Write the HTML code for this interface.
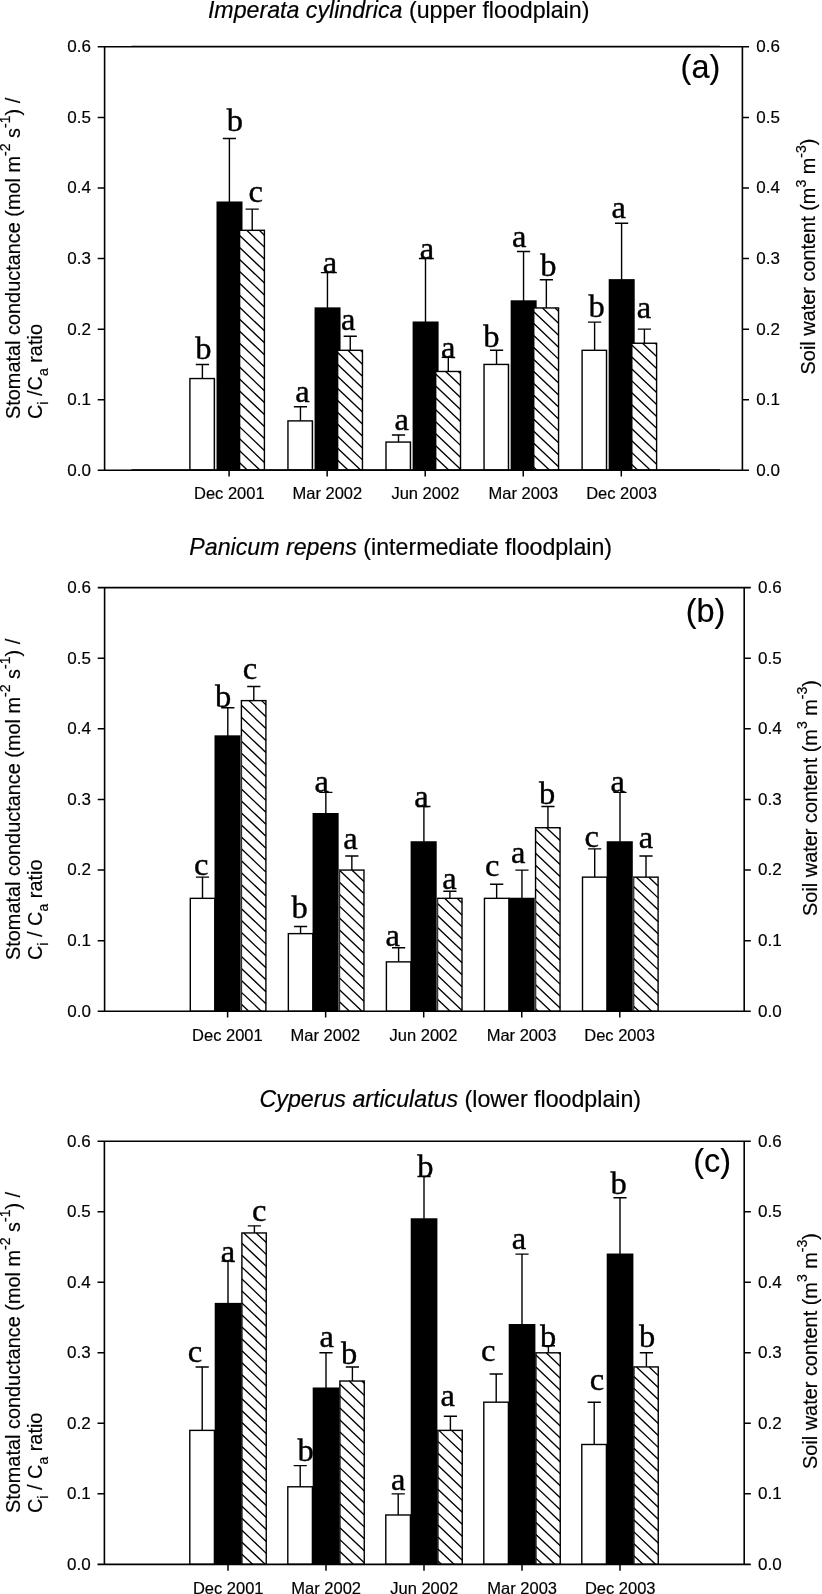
<!DOCTYPE html>
<html lang="en"><head><meta charset="utf-8"><title>Stomatal conductance, Ci/Ca ratio and soil water content</title>
<style>html,body{margin:0;padding:0;background:#fff}body{width:822px;height:1594px;overflow:hidden}svg{display:block;filter:grayscale(1) blur(.3px)}text{fill:#000;stroke:#000;stroke-width:.18px}.t{stroke-width:.4px}.s{font-family:'Liberation Sans', Arial, Helvetica, sans-serif}.t{font-family:'Liberation Serif', 'Times New Roman', Times, serif}</style></head><body>
<svg width="822" height="1594" viewBox="0 0 822 1594">
<rect width="822" height="1594" fill="#fff"/>
<g id="panel-a">
<path d="M202.4 378.54V364.43M195.8 364.43H209" stroke="#000" stroke-width="1.4" fill="none"/>
<path d="M229.4 202.08V138.56M222.8 138.56H236" stroke="#000" stroke-width="1.4" fill="none"/>
<path d="M252.2 230.32V209.14M245.6 209.14H258.8" stroke="#000" stroke-width="1.4" fill="none"/>
<rect x="189.9" y="378.54" width="24.4" height="91.76" fill="#fff" stroke="#000" stroke-width="1.4"/>
<rect x="216.5" y="201.48" width="26" height="268.82" fill="#000"/>
<rect x="239.6" y="230.32" width="24.8" height="239.98" fill="#fff"/>
<path d="M259.3 230.32L264.4 235.16M246.71 230.32L264.4 247.12M239.6 235.52L264.4 259.08M239.6 247.48L264.4 271.04M239.6 259.44L264.4 283M239.6 271.4L264.4 294.96M239.6 283.36L264.4 306.92M239.6 295.32L264.4 318.88M239.6 307.28L264.4 330.84M239.6 319.24L264.4 342.8M239.6 331.2L264.4 354.76M239.6 343.16L264.4 366.72M239.6 355.12L264.4 378.68M239.6 367.08L264.4 390.64M239.6 379.04L264.4 402.6M239.6 391L264.4 414.56M239.6 402.96L264.4 426.52M239.6 414.92L264.4 438.48M239.6 426.88L264.4 450.44M239.6 438.84L264.4 462.4M239.6 450.8L260.13 470.3M239.6 462.76L247.54 470.3" stroke="#000" stroke-width="1.35" fill="none"/>
<rect x="239.6" y="230.32" width="24.8" height="239.98" fill="none" stroke="#000" stroke-width="1.4"/>
<line x1="216" y1="378.54" x2="216" y2="470.3" stroke="#999" stroke-width="0.6"/>
<path d="M300.45 420.89V406.78M293.85 406.78H307.05" stroke="#000" stroke-width="1.4" fill="none"/>
<path d="M327.45 307.96V272.67M320.85 272.67H334.05" stroke="#000" stroke-width="1.4" fill="none"/>
<path d="M350.25 350.31V336.19M343.65 336.19H356.85" stroke="#000" stroke-width="1.4" fill="none"/>
<rect x="287.95" y="420.89" width="24.4" height="49.41" fill="#fff" stroke="#000" stroke-width="1.4"/>
<rect x="314.55" y="307.36" width="26" height="162.94" fill="#000"/>
<rect x="337.65" y="350.31" width="24.8" height="119.99" fill="#fff"/>
<path d="M360.43 350.31L362.45 352.23M347.84 350.31L362.45 364.19M337.65 352.59L362.45 376.15M337.65 364.55L362.45 388.11M337.65 376.51L362.45 400.07M337.65 388.47L362.45 412.03M337.65 400.43L362.45 423.99M337.65 412.39L362.45 435.95M337.65 424.35L362.45 447.91M337.65 436.31L362.45 459.87M337.65 448.27L360.84 470.3M337.65 460.23L348.25 470.3" stroke="#000" stroke-width="1.35" fill="none"/>
<rect x="337.65" y="350.31" width="24.8" height="119.99" fill="none" stroke="#000" stroke-width="1.4"/>
<line x1="314.05" y1="420.89" x2="314.05" y2="470.3" stroke="#999" stroke-width="0.6"/>
<path d="M398.5 442.07V435.01M391.9 435.01H405.1" stroke="#000" stroke-width="1.4" fill="none"/>
<path d="M425.5 322.08V258.55M418.9 258.55H432.1" stroke="#000" stroke-width="1.4" fill="none"/>
<path d="M448.3 371.48V357.37M441.7 357.37H454.9" stroke="#000" stroke-width="1.4" fill="none"/>
<rect x="386" y="442.07" width="24.4" height="28.23" fill="#fff" stroke="#000" stroke-width="1.4"/>
<rect x="412.6" y="321.48" width="26" height="148.82" fill="#000"/>
<rect x="435.7" y="371.48" width="24.8" height="98.82" fill="#fff"/>
<path d="M458.26 371.48L460.5 373.61M445.67 371.48L460.5 385.57M435.7 373.97L460.5 397.53M435.7 385.93L460.5 409.49M435.7 397.89L460.5 421.45M435.7 409.85L460.5 433.41M435.7 421.81L460.5 445.37M435.7 433.77L460.5 457.33M435.7 445.73L460.5 469.29M435.7 457.69L448.97 470.3M435.7 469.65L436.38 470.3" stroke="#000" stroke-width="1.35" fill="none"/>
<rect x="435.7" y="371.48" width="24.8" height="98.82" fill="none" stroke="#000" stroke-width="1.4"/>
<line x1="412.1" y1="442.07" x2="412.1" y2="470.3" stroke="#999" stroke-width="0.6"/>
<path d="M496.55 364.43V350.31M489.95 350.31H503.15" stroke="#000" stroke-width="1.4" fill="none"/>
<path d="M523.55 300.9V251.49M516.95 251.49H530.15" stroke="#000" stroke-width="1.4" fill="none"/>
<path d="M546.35 307.96V279.73M539.75 279.73H552.95" stroke="#000" stroke-width="1.4" fill="none"/>
<rect x="484.05" y="364.43" width="24.4" height="105.88" fill="#fff" stroke="#000" stroke-width="1.4"/>
<rect x="510.65" y="300.3" width="26" height="170" fill="#000"/>
<rect x="533.75" y="307.96" width="24.8" height="162.34" fill="#fff"/>
<path d="M555.05 307.96L558.55 311.28M542.46 307.96L558.55 323.24M533.75 311.64L558.55 335.2M533.75 323.6L558.55 347.16M533.75 335.56L558.55 359.12M533.75 347.52L558.55 371.08M533.75 359.48L558.55 383.04M533.75 371.44L558.55 395M533.75 383.4L558.55 406.96M533.75 395.36L558.55 418.92M533.75 407.32L558.55 430.88M533.75 419.28L558.55 442.84M533.75 431.24L558.55 454.8M533.75 443.2L558.55 466.76M533.75 455.16L549.68 470.3M533.75 467.12L537.09 470.3" stroke="#000" stroke-width="1.35" fill="none"/>
<rect x="533.75" y="307.96" width="24.8" height="162.34" fill="none" stroke="#000" stroke-width="1.4"/>
<line x1="510.15" y1="364.43" x2="510.15" y2="470.3" stroke="#999" stroke-width="0.6"/>
<path d="M594.6 350.31V322.08M588 322.08H601.2" stroke="#000" stroke-width="1.4" fill="none"/>
<path d="M621.6 279.73V223.26M615 223.26H628.2" stroke="#000" stroke-width="1.4" fill="none"/>
<path d="M644.4 343.25V329.13M637.8 329.13H651" stroke="#000" stroke-width="1.4" fill="none"/>
<rect x="582.1" y="350.31" width="24.4" height="119.99" fill="#fff" stroke="#000" stroke-width="1.4"/>
<rect x="608.7" y="279.12" width="26" height="191.17" fill="#000"/>
<rect x="631.8" y="343.25" width="24.8" height="127.05" fill="#fff"/>
<path d="M655.15 343.25L656.6 344.63M642.56 343.25L656.6 356.59M631.8 344.99L656.6 368.55M631.8 356.95L656.6 380.51M631.8 368.91L656.6 392.47M631.8 380.87L656.6 404.43M631.8 392.83L656.6 416.39M631.8 404.79L656.6 428.35M631.8 416.75L656.6 440.31M631.8 428.71L656.6 452.27M631.8 440.67L656.6 464.23M631.8 452.63L650.4 470.3M631.8 464.59L637.81 470.3" stroke="#000" stroke-width="1.35" fill="none"/>
<rect x="631.8" y="343.25" width="24.8" height="127.05" fill="none" stroke="#000" stroke-width="1.4"/>
<line x1="608.2" y1="350.31" x2="608.2" y2="470.3" stroke="#999" stroke-width="0.6"/>
<path d="M97.7 46.8H749M97.7 470.3H749M104.6 46.8V470.3M742.4 46.8V470.3" stroke="#000" stroke-width="1.6" fill="none"/>
<path d="M131.4 46.35H720M131.4 469.85H720" stroke="#000" stroke-width="1.3" fill="none"/>
<path d="M97.7 399.72H104.6M742.4 399.72H749M97.7 329.13H104.6M742.4 329.13H749M97.7 258.55H104.6M742.4 258.55H749M97.7 187.97H104.6M742.4 187.97H749M97.7 117.38H104.6M742.4 117.38H749" stroke="#000" stroke-width="1.5" fill="none"/>
<text class="s" x="90.9" y="475.7" font-size="17" text-anchor="end">0.0</text>
<text class="s" x="756.3" y="475.7" font-size="17">0.0</text>
<text class="s" x="90.9" y="405.12" font-size="17" text-anchor="end">0.1</text>
<text class="s" x="756.3" y="405.12" font-size="17">0.1</text>
<text class="s" x="90.9" y="334.53" font-size="17" text-anchor="end">0.2</text>
<text class="s" x="756.3" y="334.53" font-size="17">0.2</text>
<text class="s" x="90.9" y="263.95" font-size="17" text-anchor="end">0.3</text>
<text class="s" x="756.3" y="263.95" font-size="17">0.3</text>
<text class="s" x="90.9" y="193.37" font-size="17" text-anchor="end">0.4</text>
<text class="s" x="756.3" y="193.37" font-size="17">0.4</text>
<text class="s" x="90.9" y="122.78" font-size="17" text-anchor="end">0.5</text>
<text class="s" x="756.3" y="122.78" font-size="17">0.5</text>
<text class="s" x="90.9" y="52.2" font-size="17" text-anchor="end">0.6</text>
<text class="s" x="756.3" y="52.2" font-size="17">0.6</text>
<path d="M229.1 470.3V476.6M327.15 470.3V476.6M425.2 470.3V476.6M523.25 470.3V476.6M621.3 470.3V476.6" stroke="#000" stroke-width="1.5" fill="none"/>
<text class="s" x="229.3" y="499.1" font-size="16.5" text-anchor="middle">Dec 2001</text>
<text class="s" x="327.35" y="499.1" font-size="16.5" text-anchor="middle">Mar 2002</text>
<text class="s" x="425.4" y="499.1" font-size="16.5" text-anchor="middle">Jun 2002</text>
<text class="s" x="523.45" y="499.1" font-size="16.5" text-anchor="middle">Mar 2003</text>
<text class="s" x="621.5" y="499.1" font-size="16.5" text-anchor="middle">Dec 2003</text>
<text class="t" x="203.4" y="359.2" font-size="32.5" text-anchor="middle">b</text>
<text class="t" x="234.9" y="131.4" font-size="32.5" text-anchor="middle">b</text>
<text class="t" x="255.7" y="202.3" font-size="32.5" text-anchor="middle">c</text>
<text class="t" x="302.5" y="401.6" font-size="32.5" text-anchor="middle">a</text>
<text class="t" x="329.9" y="272.6" font-size="32.5" text-anchor="middle">a</text>
<text class="t" x="348.2" y="330.4" font-size="32.5" text-anchor="middle">a</text>
<text class="t" x="401.6" y="429.9" font-size="32.5" text-anchor="middle">a</text>
<text class="t" x="426.9" y="258.6" font-size="32.5" text-anchor="middle">a</text>
<text class="t" x="448.1" y="358.4" font-size="32.5" text-anchor="middle">a</text>
<text class="t" x="491.4" y="346.8" font-size="32.5" text-anchor="middle">b</text>
<text class="t" x="519.2" y="246.8" font-size="32.5" text-anchor="middle">a</text>
<text class="t" x="548.4" y="275.6" font-size="32.5" text-anchor="middle">b</text>
<text class="t" x="596.7" y="316.8" font-size="32.5" text-anchor="middle">b</text>
<text class="t" x="618.8" y="218.4" font-size="32.5" text-anchor="middle">a</text>
<text class="t" x="644" y="317.8" font-size="32.5" text-anchor="middle">a</text>
<text class="s" x="207.9" y="17.5" font-size="23.2"><tspan font-style="italic">Imperata cylindrica</tspan> (upper floodplain)</text>
<text class="s" x="680.6" y="78.3" font-size="32.4">(a)</text>
<text class="s" transform="translate(19.6 419) rotate(-90)" font-size="19.9">Stomatal conductance (mol m<tspan font-size="14" dy="-9.8">-2</tspan><tspan dy="9.8"> s</tspan><tspan font-size="14" dy="-9.8">-1</tspan><tspan dy="9.8">) /</tspan></text>
<text class="s" transform="translate(42.2 419) rotate(-90)" font-size="19.9">C<tspan font-size="14" dy="5.6">i</tspan><tspan dy="-5.6"> /C</tspan><tspan font-size="14" dy="5.6">a</tspan><tspan dy="-5.6"> ratio</tspan></text>
<text class="s" transform="translate(815.3 374.4) rotate(-90)" font-size="19.9">Soil water content (m<tspan font-size="14" dy="-9.8">3</tspan><tspan dy="9.8"> m</tspan><tspan font-size="14" dy="-9.8">-3</tspan><tspan dy="9.8">)</tspan></text>
</g>
<g id="panel-b">
<path d="M202.5 898.33V877.14M195.9 877.14H209.1" stroke="#000" stroke-width="1.4" fill="none"/>
<path d="M227.8 735.93V707.68M221.2 707.68H234.4" stroke="#000" stroke-width="1.4" fill="none"/>
<path d="M253.8 700.62V686.5M247.2 686.5H260.4" stroke="#000" stroke-width="1.4" fill="none"/>
<rect x="190.3" y="898.33" width="24.5" height="112.97" fill="#fff" stroke="#000" stroke-width="1.4"/>
<rect x="214.5" y="735.33" width="26.1" height="275.97" fill="#000"/>
<rect x="241.4" y="700.62" width="24.5" height="310.68" fill="#fff"/>
<path d="M261.62 700.62L265.9 704.68M249.04 700.62L265.9 716.64M241.4 705.33L265.9 728.61M241.4 717.29L265.9 740.57M241.4 729.25L265.9 752.52M241.4 741.21L265.9 764.49M241.4 753.17L265.9 776.44M241.4 765.13L265.9 788.4M241.4 777.09L265.9 800.37M241.4 789.05L265.9 812.33M241.4 801.01L265.9 824.28M241.4 812.97L265.9 836.24M241.4 824.93L265.9 848.2M241.4 836.89L265.9 860.16M241.4 848.85L265.9 872.12M241.4 860.81L265.9 884.09M241.4 872.77L265.9 896.04M241.4 884.73L265.9 908M241.4 896.69L265.9 919.96M241.4 908.65L265.9 931.92M241.4 920.61L265.9 943.88M241.4 932.57L265.9 955.85M241.4 944.53L265.9 967.81M241.4 956.49L265.9 979.76M241.4 968.45L265.9 991.72M241.4 980.41L265.9 1003.68M241.4 992.37L261.33 1011.3M241.4 1004.33L248.74 1011.3" stroke="#000" stroke-width="1.35" fill="none"/>
<rect x="241.4" y="700.62" width="24.5" height="310.68" fill="none" stroke="#000" stroke-width="1.4"/>
<line x1="241" y1="735.93" x2="241" y2="1011.3" stroke="#999" stroke-width="0.6"/>
<path d="M300.55 933.63V926.57M293.95 926.57H307.15" stroke="#000" stroke-width="1.4" fill="none"/>
<path d="M325.85 813.6V792.41M319.25 792.41H332.45" stroke="#000" stroke-width="1.4" fill="none"/>
<path d="M351.85 870.08V855.96M345.25 855.96H358.45" stroke="#000" stroke-width="1.4" fill="none"/>
<rect x="288.35" y="933.63" width="24.5" height="77.67" fill="#fff" stroke="#000" stroke-width="1.4"/>
<rect x="312.55" y="813" width="26.1" height="198.3" fill="#000"/>
<rect x="339.45" y="870.08" width="24.5" height="141.22" fill="#fff"/>
<path d="M351.88 870.08L363.95 881.55M339.45 870.24L363.95 893.51M339.45 882.2L363.95 905.47M339.45 894.16L363.95 917.43M339.45 906.12L363.95 929.39M339.45 918.08L363.95 941.35M339.45 930.04L363.95 953.31M339.45 942L363.95 965.27M339.45 953.96L363.95 977.23M339.45 965.92L363.95 989.19M339.45 977.88L363.95 1001.15M339.45 989.84L362.04 1011.3M339.45 1001.8L349.45 1011.3" stroke="#000" stroke-width="1.35" fill="none"/>
<rect x="339.45" y="870.08" width="24.5" height="141.22" fill="none" stroke="#000" stroke-width="1.4"/>
<line x1="339.05" y1="870.08" x2="339.05" y2="1011.3" stroke="#999" stroke-width="0.6"/>
<path d="M398.6 961.87V947.75M392 947.75H405.2" stroke="#000" stroke-width="1.4" fill="none"/>
<path d="M423.9 841.84V806.54M417.3 806.54H430.5" stroke="#000" stroke-width="1.4" fill="none"/>
<path d="M449.9 898.33V891.27M443.3 891.27H456.5" stroke="#000" stroke-width="1.4" fill="none"/>
<rect x="386.4" y="961.87" width="24.5" height="49.43" fill="#fff" stroke="#000" stroke-width="1.4"/>
<rect x="410.6" y="841.24" width="26.1" height="170.06" fill="#000"/>
<rect x="437.5" y="898.33" width="24.5" height="112.97" fill="#fff"/>
<path d="M457.14 898.33L462 902.94M444.55 898.33L462 914.9M437.5 903.59L462 926.86M437.5 915.55L462 938.82M437.5 927.51L462 950.78M437.5 939.47L462 962.74M437.5 951.42L462 974.7M437.5 963.38L462 986.66M437.5 975.35L462 998.62M437.5 987.3L462 1010.58M437.5 999.26L450.17 1011.3" stroke="#000" stroke-width="1.35" fill="none"/>
<rect x="437.5" y="898.33" width="24.5" height="112.97" fill="none" stroke="#000" stroke-width="1.4"/>
<line x1="437.1" y1="898.33" x2="437.1" y2="1011.3" stroke="#999" stroke-width="0.6"/>
<path d="M496.65 898.33V884.2M490.05 884.2H503.25" stroke="#000" stroke-width="1.4" fill="none"/>
<path d="M521.95 898.33V870.08M515.35 870.08H528.55" stroke="#000" stroke-width="1.4" fill="none"/>
<path d="M547.95 827.72V806.54M541.35 806.54H554.55" stroke="#000" stroke-width="1.4" fill="none"/>
<rect x="484.45" y="898.33" width="24.5" height="112.97" fill="#fff" stroke="#000" stroke-width="1.4"/>
<rect x="508.65" y="897.73" width="26.1" height="113.57" fill="#000"/>
<rect x="535.55" y="827.72" width="24.5" height="183.58" fill="#fff"/>
<path d="M559.07 827.72L560.05 828.65M546.48 827.72L560.05 840.61M535.55 829.29L560.05 852.57M535.55 841.25L560.05 864.53M535.55 853.21L560.05 876.49M535.55 865.17L560.05 888.45M535.55 877.13L560.05 900.41M535.55 889.09L560.05 912.37M535.55 901.05L560.05 924.33M535.55 913.01L560.05 936.29M535.55 924.97L560.05 948.25M535.55 936.93L560.05 960.21M535.55 948.89L560.05 972.17M535.55 960.85L560.05 984.13M535.55 972.81L560.05 996.09M535.55 984.77L560.05 1008.05M535.55 996.73L550.88 1011.3M535.55 1008.69L538.29 1011.3" stroke="#000" stroke-width="1.35" fill="none"/>
<rect x="535.55" y="827.72" width="24.5" height="183.58" fill="none" stroke="#000" stroke-width="1.4"/>
<line x1="535.15" y1="898.33" x2="535.15" y2="1011.3" stroke="#999" stroke-width="0.6"/>
<path d="M594.7 877.14V848.9M588.1 848.9H601.3" stroke="#000" stroke-width="1.4" fill="none"/>
<path d="M620 841.84V792.41M613.4 792.41H626.6" stroke="#000" stroke-width="1.4" fill="none"/>
<path d="M646 877.14V855.96M639.4 855.96H652.6" stroke="#000" stroke-width="1.4" fill="none"/>
<rect x="582.5" y="877.14" width="24.5" height="134.16" fill="#fff" stroke="#000" stroke-width="1.4"/>
<rect x="606.7" y="841.24" width="26.1" height="170.06" fill="#000"/>
<rect x="633.6" y="877.14" width="24.5" height="134.16" fill="#fff"/>
<path d="M648.87 877.14L658.1 885.91M636.28 877.14L658.1 897.88M633.6 886.56L658.1 909.84M633.6 898.52L658.1 921.79M633.6 910.48L658.1 933.75M633.6 922.44L658.1 945.71M633.6 934.4L658.1 957.67M633.6 946.36L658.1 969.63M633.6 958.32L658.1 981.6M633.6 970.28L658.1 993.55M633.6 982.24L658.1 1005.51M633.6 994.2L651.6 1011.3M633.6 1006.16L639.01 1011.3" stroke="#000" stroke-width="1.35" fill="none"/>
<rect x="633.6" y="877.14" width="24.5" height="134.16" fill="none" stroke="#000" stroke-width="1.4"/>
<line x1="633.2" y1="877.14" x2="633.2" y2="1011.3" stroke="#999" stroke-width="0.6"/>
<path d="M97.7 587.65H750.8M97.7 1011.3H750.8M104.6 587.65V1011.3M744.2 587.65V1011.3" stroke="#000" stroke-width="1.6" fill="none"/>
<path d="M97.7 940.69H104.6M744.2 940.69H750.8M97.7 870.08H104.6M744.2 870.08H750.8M97.7 799.47H104.6M744.2 799.47H750.8M97.7 728.87H104.6M744.2 728.87H750.8M97.7 658.26H104.6M744.2 658.26H750.8" stroke="#000" stroke-width="1.5" fill="none"/>
<text class="s" x="90.9" y="1016.7" font-size="17" text-anchor="end">0.0</text>
<text class="s" x="758.1" y="1016.7" font-size="17">0.0</text>
<text class="s" x="90.9" y="946.09" font-size="17" text-anchor="end">0.1</text>
<text class="s" x="758.1" y="946.09" font-size="17">0.1</text>
<text class="s" x="90.9" y="875.48" font-size="17" text-anchor="end">0.2</text>
<text class="s" x="758.1" y="875.48" font-size="17">0.2</text>
<text class="s" x="90.9" y="804.87" font-size="17" text-anchor="end">0.3</text>
<text class="s" x="758.1" y="804.87" font-size="17">0.3</text>
<text class="s" x="90.9" y="734.27" font-size="17" text-anchor="end">0.4</text>
<text class="s" x="758.1" y="734.27" font-size="17">0.4</text>
<text class="s" x="90.9" y="663.66" font-size="17" text-anchor="end">0.5</text>
<text class="s" x="758.1" y="663.66" font-size="17">0.5</text>
<text class="s" x="90.9" y="593.05" font-size="17" text-anchor="end">0.6</text>
<text class="s" x="758.1" y="593.05" font-size="17">0.6</text>
<path d="M227.6 1011.3V1017.6M325.65 1011.3V1017.6M423.7 1011.3V1017.6M521.75 1011.3V1017.6M619.8 1011.3V1017.6" stroke="#000" stroke-width="1.5" fill="none"/>
<text class="s" x="227.4" y="1040.7" font-size="16.5" text-anchor="middle">Dec 2001</text>
<text class="s" x="325.45" y="1040.7" font-size="16.5" text-anchor="middle">Mar 2002</text>
<text class="s" x="423.5" y="1040.7" font-size="16.5" text-anchor="middle">Jun 2002</text>
<text class="s" x="521.55" y="1040.7" font-size="16.5" text-anchor="middle">Mar 2003</text>
<text class="s" x="619.6" y="1040.7" font-size="16.5" text-anchor="middle">Dec 2003</text>
<text class="t" x="201.2" y="875.2" font-size="32.5" text-anchor="middle">c</text>
<text class="t" x="223.1" y="706.9" font-size="32.5" text-anchor="middle">b</text>
<text class="t" x="250" y="678.5" font-size="32.5" text-anchor="middle">c</text>
<text class="t" x="299.5" y="918.2" font-size="32.5" text-anchor="middle">b</text>
<text class="t" x="321.7" y="792" font-size="32.5" text-anchor="middle">a</text>
<text class="t" x="350.4" y="849.2" font-size="32.5" text-anchor="middle">a</text>
<text class="t" x="392.6" y="946.3" font-size="32.5" text-anchor="middle">a</text>
<text class="t" x="421.4" y="806.7" font-size="32.5" text-anchor="middle">a</text>
<text class="t" x="449.4" y="889.4" font-size="32.5" text-anchor="middle">a</text>
<text class="t" x="492.2" y="875.6" font-size="32.5" text-anchor="middle">c</text>
<text class="t" x="518.1" y="862.9" font-size="32.5" text-anchor="middle">a</text>
<text class="t" x="547.2" y="803.8" font-size="32.5" text-anchor="middle">b</text>
<text class="t" x="591.7" y="846.5" font-size="32.5" text-anchor="middle">c</text>
<text class="t" x="617.8" y="792.1" font-size="32.5" text-anchor="middle">a</text>
<text class="t" x="646" y="848.3" font-size="32.5" text-anchor="middle">a</text>
<text class="s" x="189.3" y="555.2" font-size="23.2"><tspan font-style="italic">Panicum repens</tspan> (intermediate floodplain)</text>
<text class="s" x="685.8" y="622.2" font-size="32.4">(b)</text>
<text class="s" transform="translate(19.6 960) rotate(-90)" font-size="19.9">Stomatal conductance (mol m<tspan font-size="14" dy="-9.8">-2</tspan><tspan dy="9.8"> s</tspan><tspan font-size="14" dy="-9.8">-1</tspan><tspan dy="9.8">) /</tspan></text>
<text class="s" transform="translate(42.2 960) rotate(-90)" font-size="19.9">C<tspan font-size="14" dy="5.6">i</tspan><tspan dy="-5.6"> / C</tspan><tspan font-size="14" dy="5.6">a</tspan><tspan dy="-5.6"> ratio</tspan></text>
<text class="s" transform="translate(817.05 915.9) rotate(-90)" font-size="19.9">Soil water content (m<tspan font-size="14" dy="-9.8">3</tspan><tspan dy="9.8"> m</tspan><tspan font-size="14" dy="-9.8">-3</tspan><tspan dy="9.8">)</tspan></text>
</g>
<g id="panel-c">
<path d="M202.2 1430.38V1366.93M195.6 1366.93H208.8" stroke="#000" stroke-width="1.4" fill="none"/>
<path d="M228 1303.47V1261.16M221.4 1261.16H234.6" stroke="#000" stroke-width="1.4" fill="none"/>
<path d="M254.4 1232.96V1225.91M247.8 1225.91H261" stroke="#000" stroke-width="1.4" fill="none"/>
<rect x="189.8" y="1430.38" width="24.6" height="133.97" fill="#fff" stroke="#000" stroke-width="1.4"/>
<rect x="214.7" y="1302.87" width="26.7" height="261.48" fill="#000"/>
<rect x="241.9" y="1232.96" width="24.35" height="331.39" fill="#fff"/>
<path d="M256.3 1232.96L266.25 1242.42M243.71 1232.96L266.25 1254.38M241.9 1243.21L266.25 1266.34M241.9 1255.17L266.25 1278.3M241.9 1267.13L266.25 1290.26M241.9 1279.09L266.25 1302.22M241.9 1291.05L266.25 1314.18M241.9 1303.01L266.25 1326.14M241.9 1314.97L266.25 1338.1M241.9 1326.93L266.25 1350.06M241.9 1338.89L266.25 1362.02M241.9 1350.85L266.25 1373.98M241.9 1362.81L266.25 1385.94M241.9 1374.77L266.25 1397.9M241.9 1386.73L266.25 1409.86M241.9 1398.69L266.25 1421.82M241.9 1410.65L266.25 1433.78M241.9 1422.61L266.25 1445.74M241.9 1434.57L266.25 1457.7M241.9 1446.53L266.25 1469.66M241.9 1458.49L266.25 1481.62M241.9 1470.45L266.25 1493.58M241.9 1482.41L266.25 1505.54M241.9 1494.37L266.25 1517.5M241.9 1506.33L266.25 1529.46M241.9 1518.29L266.25 1541.42M241.9 1530.25L266.25 1553.38M241.9 1542.21L265.21 1564.35M241.9 1554.17L252.62 1564.35" stroke="#000" stroke-width="1.35" fill="none"/>
<rect x="241.9" y="1232.96" width="24.35" height="331.39" fill="none" stroke="#000" stroke-width="1.4"/>
<path d="M300.2 1486.79V1465.64M293.6 1465.64H306.8" stroke="#000" stroke-width="1.4" fill="none"/>
<path d="M326 1388.08V1352.82M319.4 1352.82H332.6" stroke="#000" stroke-width="1.4" fill="none"/>
<path d="M352.4 1381.03V1366.93M345.8 1366.93H359" stroke="#000" stroke-width="1.4" fill="none"/>
<rect x="287.8" y="1486.79" width="24.6" height="77.56" fill="#fff" stroke="#000" stroke-width="1.4"/>
<rect x="312.7" y="1387.48" width="26.7" height="176.87" fill="#000"/>
<rect x="339.9" y="1381.03" width="24.35" height="183.32" fill="#fff"/>
<path d="M361.8 1381.03L364.25 1383.36M349.21 1381.03L364.25 1395.32M339.9 1384.14L364.25 1407.28M339.9 1396.11L364.25 1419.24M339.9 1408.07L364.25 1431.2M339.9 1420.03L364.25 1443.16M339.9 1431.99L364.25 1455.12M339.9 1443.94L364.25 1467.08M339.9 1455.9L364.25 1479.04M339.9 1467.87L364.25 1491M339.9 1479.83L364.25 1502.96M339.9 1491.79L364.25 1514.92M339.9 1503.75L364.25 1526.88M339.9 1515.71L364.25 1538.84M339.9 1527.66L364.25 1550.8M339.9 1539.62L364.25 1562.76M339.9 1551.59L353.34 1564.35M339.9 1563.55L340.75 1564.35" stroke="#000" stroke-width="1.35" fill="none"/>
<rect x="339.9" y="1381.03" width="24.35" height="183.32" fill="none" stroke="#000" stroke-width="1.4"/>
<path d="M398.2 1514.99V1493.84M391.6 1493.84H404.8" stroke="#000" stroke-width="1.4" fill="none"/>
<path d="M424 1218.86V1176.55M417.4 1176.55H430.6" stroke="#000" stroke-width="1.4" fill="none"/>
<path d="M450.4 1430.38V1416.28M443.8 1416.28H457" stroke="#000" stroke-width="1.4" fill="none"/>
<rect x="385.8" y="1514.99" width="24.6" height="49.36" fill="#fff" stroke="#000" stroke-width="1.4"/>
<rect x="410.7" y="1218.26" width="26.7" height="346.09" fill="#000"/>
<rect x="437.9" y="1430.38" width="24.35" height="133.97" fill="#fff"/>
<path d="M451.52 1430.38L462.25 1440.58M438.93 1430.38L462.25 1452.54M437.9 1441.37L462.25 1464.5M437.9 1453.33L462.25 1476.46M437.9 1465.28L462.25 1488.42M437.9 1477.24L462.25 1500.38M437.9 1489.2L462.25 1512.34M437.9 1501.16L462.25 1524.3M437.9 1513.12L462.25 1536.26M437.9 1525.09L462.25 1548.22M437.9 1537.04L462.25 1560.18M437.9 1549L454.05 1564.35M437.9 1560.96L441.46 1564.35" stroke="#000" stroke-width="1.35" fill="none"/>
<rect x="437.9" y="1430.38" width="24.35" height="133.97" fill="none" stroke="#000" stroke-width="1.4"/>
<path d="M496.2 1402.18V1373.98M489.6 1373.98H502.8" stroke="#000" stroke-width="1.4" fill="none"/>
<path d="M522 1324.62V1254.11M515.4 1254.11H528.6" stroke="#000" stroke-width="1.4" fill="none"/>
<path d="M548.4 1352.82V1345.77M541.8 1345.77H555" stroke="#000" stroke-width="1.4" fill="none"/>
<rect x="483.8" y="1402.18" width="24.6" height="162.17" fill="#fff" stroke="#000" stroke-width="1.4"/>
<rect x="508.7" y="1324.02" width="26.7" height="240.33" fill="#000"/>
<rect x="535.9" y="1352.82" width="24.35" height="211.53" fill="#fff"/>
<path d="M558.72 1352.82L560.25 1354.28M546.13 1352.82L560.25 1366.24M535.9 1355.07L560.25 1378.2M535.9 1367.03L560.25 1390.16M535.9 1378.99L560.25 1402.12M535.9 1390.94L560.25 1414.08M535.9 1402.9L560.25 1426.04M535.9 1414.87L560.25 1438M535.9 1426.83L560.25 1449.96M535.9 1438.79L560.25 1461.92M535.9 1450.75L560.25 1473.88M535.9 1462.7L560.25 1485.84M535.9 1474.66L560.25 1497.8M535.9 1486.62L560.25 1509.76M535.9 1498.59L560.25 1521.72M535.9 1510.55L560.25 1533.68M535.9 1522.51L560.25 1545.64M535.9 1534.47L560.25 1557.6M535.9 1546.43L554.77 1564.35M535.9 1558.38L542.18 1564.35" stroke="#000" stroke-width="1.35" fill="none"/>
<rect x="535.9" y="1352.82" width="24.35" height="211.53" fill="none" stroke="#000" stroke-width="1.4"/>
<path d="M594.2 1444.49V1402.18M587.6 1402.18H600.8" stroke="#000" stroke-width="1.4" fill="none"/>
<path d="M620 1254.11V1197.71M613.4 1197.71H626.6" stroke="#000" stroke-width="1.4" fill="none"/>
<path d="M646.4 1366.93V1352.82M639.8 1352.82H653" stroke="#000" stroke-width="1.4" fill="none"/>
<rect x="581.8" y="1444.49" width="24.6" height="119.86" fill="#fff" stroke="#000" stroke-width="1.4"/>
<rect x="606.7" y="1253.51" width="26.7" height="310.84" fill="#000"/>
<rect x="633.9" y="1366.93" width="24.35" height="197.42" fill="#fff"/>
<path d="M649.1 1366.93L658.25 1375.62M636.51 1366.93L658.25 1387.58M633.9 1376.4L658.25 1399.54M633.9 1388.37L658.25 1411.5M633.9 1400.32L658.25 1423.46M633.9 1412.28L658.25 1435.42M633.9 1424.24L658.25 1447.38M633.9 1436.2L658.25 1459.34M633.9 1448.16L658.25 1471.3M633.9 1460.12L658.25 1483.26M633.9 1472.09L658.25 1495.22M633.9 1484.05L658.25 1507.18M633.9 1496.01L658.25 1519.14M633.9 1507.97L658.25 1531.1M633.9 1519.92L658.25 1543.06M633.9 1531.88L658.25 1555.02M633.9 1543.85L655.48 1564.35M633.9 1555.8L642.89 1564.35" stroke="#000" stroke-width="1.35" fill="none"/>
<rect x="633.9" y="1366.93" width="24.35" height="197.42" fill="none" stroke="#000" stroke-width="1.4"/>
<path d="M97.5 1141.3H750.8M97.5 1564.35H750.8M104.4 1141.3V1564.35M744.2 1141.3V1564.35" stroke="#000" stroke-width="1.6" fill="none"/>
<path d="M97.5 1493.84H104.4M744.2 1493.84H750.8M97.5 1423.33H104.4M744.2 1423.33H750.8M97.5 1352.82H104.4M744.2 1352.82H750.8M97.5 1282.32H104.4M744.2 1282.32H750.8M97.5 1211.81H104.4M744.2 1211.81H750.8" stroke="#000" stroke-width="1.5" fill="none"/>
<text class="s" x="90.7" y="1569.75" font-size="17" text-anchor="end">0.0</text>
<text class="s" x="758.1" y="1569.75" font-size="17">0.0</text>
<text class="s" x="90.7" y="1499.24" font-size="17" text-anchor="end">0.1</text>
<text class="s" x="758.1" y="1499.24" font-size="17">0.1</text>
<text class="s" x="90.7" y="1428.73" font-size="17" text-anchor="end">0.2</text>
<text class="s" x="758.1" y="1428.73" font-size="17">0.2</text>
<text class="s" x="90.7" y="1358.22" font-size="17" text-anchor="end">0.3</text>
<text class="s" x="758.1" y="1358.22" font-size="17">0.3</text>
<text class="s" x="90.7" y="1287.72" font-size="17" text-anchor="end">0.4</text>
<text class="s" x="758.1" y="1287.72" font-size="17">0.4</text>
<text class="s" x="90.7" y="1217.21" font-size="17" text-anchor="end">0.5</text>
<text class="s" x="758.1" y="1217.21" font-size="17">0.5</text>
<text class="s" x="90.7" y="1146.7" font-size="17" text-anchor="end">0.6</text>
<text class="s" x="758.1" y="1146.7" font-size="17">0.6</text>
<path d="M228 1564.35V1570.65M326 1564.35V1570.65M424 1564.35V1570.65M522 1564.35V1570.65M620 1564.35V1570.65" stroke="#000" stroke-width="1.5" fill="none"/>
<text class="s" x="228.2" y="1593.7" font-size="16.5" text-anchor="middle">Dec 2001</text>
<text class="s" x="326.2" y="1593.7" font-size="16.5" text-anchor="middle">Mar 2002</text>
<text class="s" x="424.2" y="1593.7" font-size="16.5" text-anchor="middle">Jun 2002</text>
<text class="s" x="522.2" y="1593.7" font-size="16.5" text-anchor="middle">Mar 2003</text>
<text class="s" x="620.2" y="1593.7" font-size="16.5" text-anchor="middle">Dec 2003</text>
<text class="t" x="194.9" y="1361.6" font-size="32.5" text-anchor="middle">c</text>
<text class="t" x="228" y="1261.6" font-size="32.5" text-anchor="middle">a</text>
<text class="t" x="259.1" y="1220.8" font-size="32.5" text-anchor="middle">c</text>
<text class="t" x="305.6" y="1460.9" font-size="32.5" text-anchor="middle">b</text>
<text class="t" x="326.6" y="1346.7" font-size="32.5" text-anchor="middle">a</text>
<text class="t" x="349.1" y="1363.5" font-size="32.5" text-anchor="middle">b</text>
<text class="t" x="398.1" y="1489.6" font-size="32.5" text-anchor="middle">a</text>
<text class="t" x="425.4" y="1176.9" font-size="32.5" text-anchor="middle">b</text>
<text class="t" x="447.6" y="1405.9" font-size="32.5" text-anchor="middle">a</text>
<text class="t" x="488.2" y="1361.2" font-size="32.5" text-anchor="middle">c</text>
<text class="t" x="518.9" y="1249.2" font-size="32.5" text-anchor="middle">a</text>
<text class="t" x="548" y="1346.5" font-size="32.5" text-anchor="middle">b</text>
<text class="t" x="596.9" y="1390.4" font-size="32.5" text-anchor="middle">c</text>
<text class="t" x="618.7" y="1193.5" font-size="32.5" text-anchor="middle">b</text>
<text class="t" x="647" y="1347.4" font-size="32.5" text-anchor="middle">b</text>
<text class="s" x="259.6" y="1106.7" font-size="23.2"><tspan font-style="italic">Cyperus articulatus</tspan> (lower floodplain)</text>
<text class="s" x="693.3" y="1171.8" font-size="32.4">(c)</text>
<text class="s" transform="translate(19.6 1513.05) rotate(-90)" font-size="19.9">Stomatal conductance (mol m<tspan font-size="14" dy="-9.8">-2</tspan><tspan dy="9.8"> s</tspan><tspan font-size="14" dy="-9.8">-1</tspan><tspan dy="9.8">) /</tspan></text>
<text class="s" transform="translate(42.2 1513.05) rotate(-90)" font-size="19.9">C<tspan font-size="14" dy="5.6">i</tspan><tspan dy="-5.6"> / C</tspan><tspan font-size="14" dy="5.6">a</tspan><tspan dy="-5.6"> ratio</tspan></text>
<text class="s" transform="translate(817.05 1468.95) rotate(-90)" font-size="19.9">Soil water content (m<tspan font-size="14" dy="-9.8">3</tspan><tspan dy="9.8"> m</tspan><tspan font-size="14" dy="-9.8">-3</tspan><tspan dy="9.8">)</tspan></text>
</g>
</svg></body></html>
